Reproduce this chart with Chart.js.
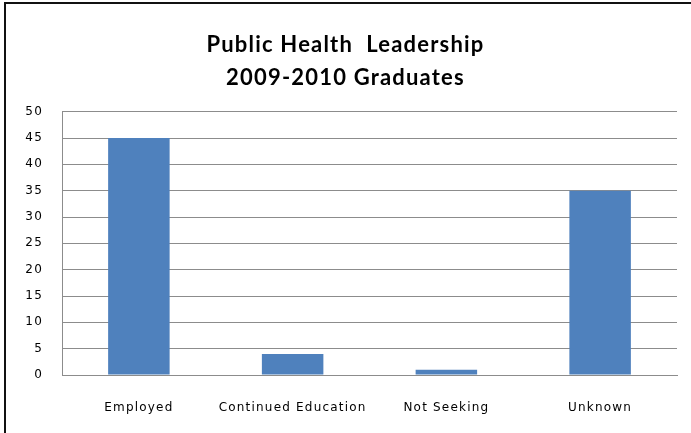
<!DOCTYPE html>
<html><head><meta charset="utf-8">
<script src="https://cdn.jsdelivr.net/npm/chart.js@4.4.0/dist/chart.umd.min.js"></script>
<style>
html,body{margin:0;padding:0;background:#fff;width:691px;height:433px;overflow:hidden}
#wrap{position:absolute;left:0;top:0;width:691px;height:433px}
#frame{position:absolute;left:4px;top:2px;width:700px;height:440px;border-left:2px solid #111;border-top:2px solid #111;pointer-events:none}
</style></head>
<body>
<div id="wrap"><canvas id="c" width="691" height="433"></canvas></div>
<div id="frame"></div>
<script>
const categories = ['Employed', 'Continued Education', 'Not Seeking', 'Unknown'];
const graduates = [45, 4, 1, 35];
const titleLines = ['Public Health  Leadership', '2009-2010 Graduates'];
const yMin = 0, yMax = 50, yStep = 5;

const spacing = {
  id: 'spacing',
  beforeInit(c) { c.ctx.letterSpacing = '1.2px'; },
  beforeLayout(c) { c.ctx.letterSpacing = '1.2px'; },
  beforeDraw(c) { c.ctx.letterSpacing = '1.2px'; }
};

new Chart(document.getElementById('c'), {
  type: 'bar',
  data: {
    labels: categories,
    datasets: [{
      data: graduates,
      backgroundColor: '#4F81BD',
      borderWidth: 0,
      categoryPercentage: 1,
      barPercentage: 0.4
    }]
  },
  options: {
    responsive: false,
    animation: false,
    devicePixelRatio: 1,
    layout: { padding: 0 },
    plugins: {
      legend: { display: false },
      tooltip: { enabled: false },
      title: {
        display: true,
        text: titleLines,
        color: '#000',
        font: { family: 'Lato', size: 22, weight: 'bold', lineHeight: 1.47 },
        padding: { top: 29, bottom: 18 }
      }
    },
    scales: {
      x: {
        grid: { display: false },
        border: { display: true, color: '#8c8c8c', width: 1 },
        ticks: { color: '#000', font: { family: 'DejaVu Sans', size: 12 }, padding: 18, maxRotation: 0, autoSkip: false },
        afterFit(s) { s.height = 58; }
      },
      y: {
        min: yMin, max: yMax,
        grid: { color: '#8c8c8c', drawTicks: false, tickLength: 0 },
        border: { display: true, color: '#8c8c8c', width: 1 },
        ticks: { stepSize: yStep, color: '#000', font: { family: 'DejaVu Sans', size: 12 }, padding: 19 },
        afterFit(s) { s.width = 62; }
      },
      yRight: {
        position: 'right',
        min: yMin, max: yMax,
        grid: { display: false, drawOnChartArea: false },
        border: { display: false },
        ticks: { display: false },
        afterFit(s) { s.width = 14; }
      }
    }
  },
  plugins: [spacing]
});
</script>
</body></html>
